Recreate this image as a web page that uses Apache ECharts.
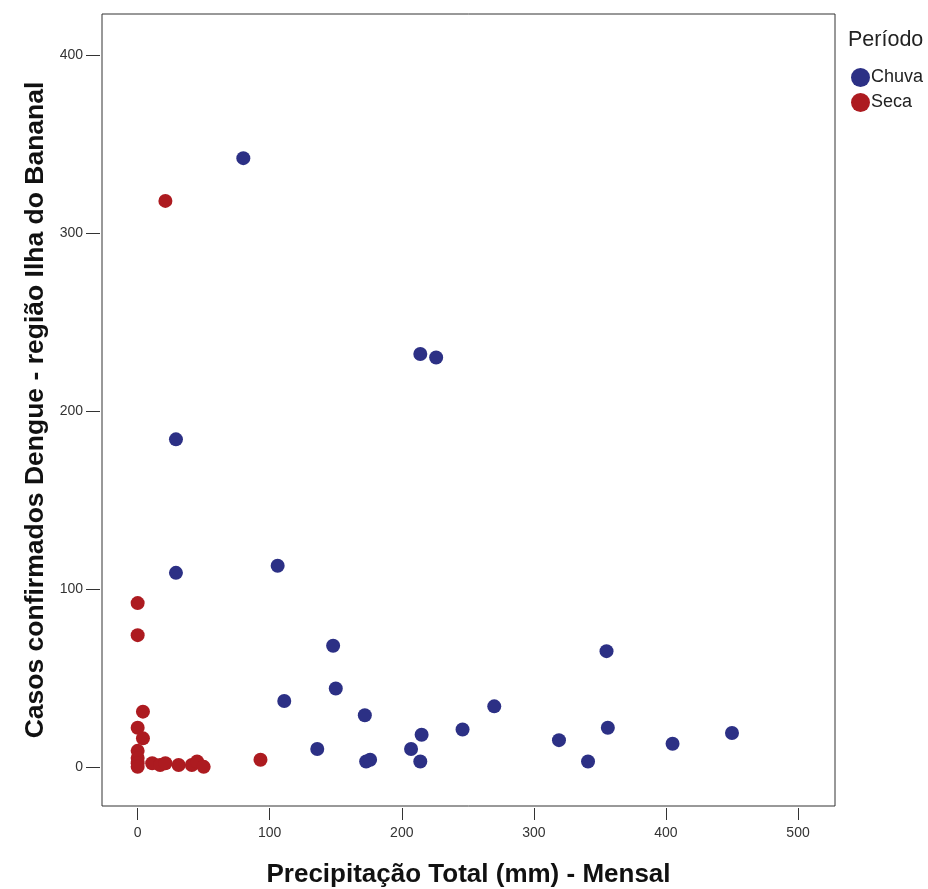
<!DOCTYPE html>
<html>
<head>
<meta charset="utf-8">
<script src="https://cdn.jsdelivr.net/npm/echarts@6/dist/echarts.min.js"></script>
<style>html,body{margin:0;padding:0;background:#fff;}#c{width:928px;height:889px;}</style>
</head>
<body>
<div id="c"></div>
<script>
const chuvaX = [80, 214, 226, 29, 29, 106, 148, 355, 150, 111, 270, 172, 246, 356, 450, 405, 319, 215, 136, 207, 173, 176, 214, 341];
const chuvaY = [342, 232, 230, 184, 109, 113, 68, 65, 44, 37, 34, 29, 21, 22, 19, 13, 15, 18, 10, 10, 3, 4, 3, 3];
const secaX = [21, 0, 0, 4, 0, 4, 0, 0, 0, 0, 11, 17, 21, 31, 41, 45, 50, 93];
const secaY = [318, 92, 74, 31, 22, 16, 9, 5, 2, 0, 2, 1, 2, 1, 1, 3, 0, 4];
const xTicks = [0, 100, 200, 300, 400, 500];
const yTicks = [0, 100, 200, 300, 400];
const seriesNames = ['Chuva', 'Seca'];
const legendTitle = 'Período';
const xTitle = 'Precipitação Total (mm) - Mensal';
const yTitle = 'Casos confirmados Dengue - região Ilha do Bananal';

const zip = (a, b) => a.map((v, i) => [v, b[i]]);
const font = 'Liberation Sans, Arial, sans-serif';
const chart = echarts.init(document.getElementById('c'));
chart.setOption({
  animation: false,
  backgroundColor: '#fff',
  grid: {left: 102, right: 93, top: 14, bottom: 83, show: true, borderColor: '#333', borderWidth: 1, backgroundColor: 'transparent', outerBoundsMode: 'none', containLabel: false},
  xAxis: {
    type: 'value', min: -27, max: 528, offset: 2,
    name: xTitle, nameLocation: 'middle', nameGap: 54,
    nameTextStyle: {fontFamily: font, fontWeight: 'bold', fontSize: 26, color: '#111'},
    splitLine: {show: false},
    axisLine: {show: false, onZero: false},
    axisTick: {show: true, length: 12, lineStyle: {color: '#333'}, customValues: xTicks},
    axisLabel: {fontFamily: font, fontSize: 14, color: '#333', margin: 18, customValues: xTicks}
  },
  yAxis: {
    type: 'value', min: -22, max: 423, offset: 2,
    name: yTitle, nameLocation: 'middle', nameGap: 50,
    nameTextStyle: {fontFamily: font, fontWeight: 'bold', fontSize: 26.5, color: '#111'},
    splitLine: {show: false},
    axisLine: {show: false, onZero: false},
    axisTick: {show: true, length: 14, lineStyle: {color: '#333'}, customValues: yTicks},
    axisLabel: {fontFamily: font, fontSize: 14, color: '#333', margin: 17, customValues: yTicks}
  },
  legend: {
    orient: 'vertical', left: 846, top: 63, itemWidth: 19, itemHeight: 19, itemGap: 6,
    icon: 'circle', textStyle: {fontFamily: font, fontSize: 18, color: '#222', padding: [0, 0, 0, -4]},
    data: seriesNames
  },
  graphic: [{type: 'text', left: 848, top: 29, style: {text: legendTitle, font: '21.5px ' + font, fill: '#222'}}],
  series: [
    {name: seriesNames[0], type: 'scatter', symbolSize: 14, itemStyle: {color: '#2c3085', opacity: 1}, data: zip(chuvaX, chuvaY)},
    {name: seriesNames[1], type: 'scatter', symbolSize: 14, itemStyle: {color: '#ad1b20', opacity: 1}, data: zip(secaX, secaY)}
  ]
});
</script>
</body>
</html>
